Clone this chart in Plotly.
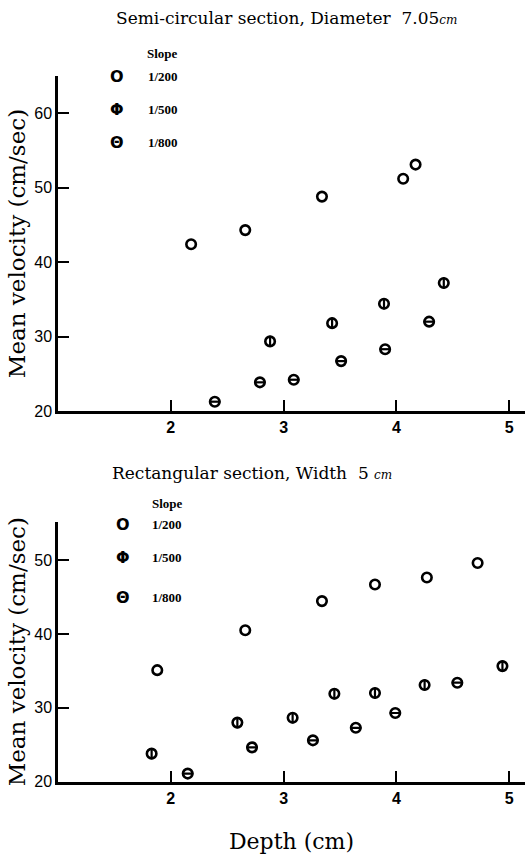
import plotly.graph_objects as go

# ---- Data ----
slopes = ["1/200", "1/500", "1/800"]
x_ticks = [2, 3, 4, 5]
semi_y_ticks = [20, 30, 40, 50, 60]
rect_y_ticks = [20, 30, 40, 50]

# Semi-circular section, Diameter 7.05 cm
semi_depth_200 = [2.18, 2.66, 3.34, 4.06, 4.17]
semi_vel_200 = [42.4, 44.3, 48.8, 51.2, 53.1]
semi_depth_500 = [2.88, 3.43, 3.89, 4.42]
semi_vel_500 = [29.35, 31.8, 34.4, 37.2]
semi_depth_800 = [2.39, 2.79, 3.09, 3.51, 3.90, 4.29]
semi_vel_800 = [21.25, 23.85, 24.2, 26.7, 28.3, 32.0]

# Rectangular section, Width 5 cm
rect_depth_200 = [1.88, 2.66, 3.34, 3.81, 4.27, 4.72]
rect_vel_200 = [35.1, 40.5, 44.45, 46.7, 47.65, 49.6]
rect_depth_500 = [1.83, 2.59, 3.08, 3.45, 3.81, 4.25, 4.94]
rect_vel_500 = [23.8, 28.0, 28.65, 31.9, 32.0, 33.1, 35.65]
rect_depth_800 = [2.15, 2.72, 3.26, 3.64, 3.99, 4.54]
rect_vel_800 = [21.1, 24.65, 25.6, 27.3, 29.3, 33.4]

# ---- Figure ----
W, H = 525, 855
ML = 58
fig = go.Figure()

INK = "black"
SERIF = "DejaVu Serif, Liberation Serif, serif"
SANS = "Liberation Sans, Arial, sans-serif"


def add_series(xs, ys, slope, bar, xa, ya):
    fig.add_trace(go.Scatter(
        x=xs, y=ys, mode="markers", name=slope, xaxis=xa, yaxis=ya,
        showlegend=False,
        marker=dict(symbol="circle-open", size=9.5, color=INK,
                    line=dict(width=2.6, color=INK)),
    ))
    if bar:
        fig.add_trace(go.Scatter(
            x=xs, y=ys, mode="markers", name=slope, xaxis=xa, yaxis=ya,
            showlegend=False, hoverinfo="skip",
            marker=dict(symbol=bar, size=8, color=INK,
                        line=dict(width=2.2, color=INK)),
        ))


add_series(semi_depth_200, semi_vel_200, slopes[0], None, "x", "y")
add_series(semi_depth_500, semi_vel_500, slopes[1], "line-ns-open", "x", "y")
add_series(semi_depth_800, semi_vel_800, slopes[2], "line-ew-open", "x", "y")
add_series(rect_depth_200, rect_vel_200, slopes[0], None, "x2", "y2")
add_series(rect_depth_500, rect_vel_500, slopes[1], "line-ns-open", "x2", "y2")
add_series(rect_depth_800, rect_vel_800, slopes[2], "line-ew-open", "x2", "y2")


def px_x(px):
    return (px - ML) / (W - ML)


def px_y(py):
    return (H - py) / H


xcommon = dict(
    range=[1.0, 5.14], tickvals=x_ticks, ticks="inside", ticklen=11,
    tickwidth=2, tickcolor=INK, showline=True, linewidth=2.5, linecolor=INK,
    showgrid=False, zeroline=False, automargin=False,
    tickfont=dict(family=SANS, size=16, color=INK, weight="bold"),
)
ycommon = dict(
    ticks="inside", ticklen=11, tickwidth=2, tickcolor=INK, showline=True,
    linewidth=2.5, linecolor=INK, showgrid=False, zeroline=False,
    automargin=False,
    tickfont=dict(family=SANS, size=16, color=INK),
    title=dict(text="Mean velocity (cm/sec)", standoff=3,
               font=dict(family=SERIF, size=23, color=INK)),
)

fig.update_layout(
    template="none",
    width=W, height=H,
    margin=dict(l=ML, r=0, t=0, b=0),
    paper_bgcolor="white", plot_bgcolor="white",
    showlegend=False,
    xaxis=dict(**xcommon, domain=[0, 1], anchor="y"),
    yaxis=dict(**ycommon, domain=[px_y(411), px_y(76)], range=[20, 65],
               tickvals=semi_y_ticks, anchor="x"),
    xaxis2=dict(**xcommon, domain=[0, 1], anchor="y2",
                title=dict(text="Depth (cm)", standoff=28,
                           font=dict(family=SERIF, size=22, color=INK))),
    yaxis2=dict(**ycommon, domain=[px_y(781.7), px_y(521.7)],
                range=[20, 55.2], tickvals=rect_y_ticks, anchor="x2"),
)

NB = "\u00a0"
annotations = [
    dict(text="Semi-circular section," + NB + "Diameter" + NB + NB + "7.05<span style='font-size:12px'><i>cm</i></span>",
         x=px_x(286.5), y=px_y(18), font=dict(family=SERIF, size=17, color=INK)),
    dict(text="Rectangular section," + NB + "Width" + NB + NB + "5" + NB + "<span style='font-size:12px'><i>cm</i></span>",
         x=px_x(251.5), y=px_y(473), font=dict(family=SERIF, size=17, color=INK)),
]

# Legends (one per panel)
key_syms = ["<b>O</b>", "<b>Φ</b>", "<b>Θ</b>"]
legend_specs = [
    dict(title_xy=(145, 53), sym_x=117, lab_x=146, rows=[77, 109, 142]),
    dict(title_xy=(150, 503), sym_x=123, lab_x=150, rows=[524, 557, 597]),
]
for spec in legend_specs:
    annotations.append(dict(
        text="<b>Slope</b>", x=px_x(spec["title_xy"][0]), y=px_y(spec["title_xy"][1]),
        xanchor="left", font=dict(family="Liberation Serif, serif", size=13, color=INK)))
    for sym, lab, ry in zip(key_syms, slopes, spec["rows"]):
        annotations.append(dict(
            text=sym, x=px_x(spec["sym_x"]), y=px_y(ry), xanchor="center",
            font=dict(family="DejaVu Sans, sans-serif", size=16, color=INK)))
        annotations.append(dict(
            text="<b>" + lab + "</b>", x=px_x(spec["lab_x"]), y=px_y(ry),
            xanchor="left", font=dict(family="Liberation Serif, serif", size=13, color=INK)))

for a in annotations:
    a.setdefault("xanchor", "center")
    a.update(xref="paper", yref="paper", yanchor="middle", showarrow=False)
fig.update_layout(annotations=annotations)

fig.write_html("out.html")
